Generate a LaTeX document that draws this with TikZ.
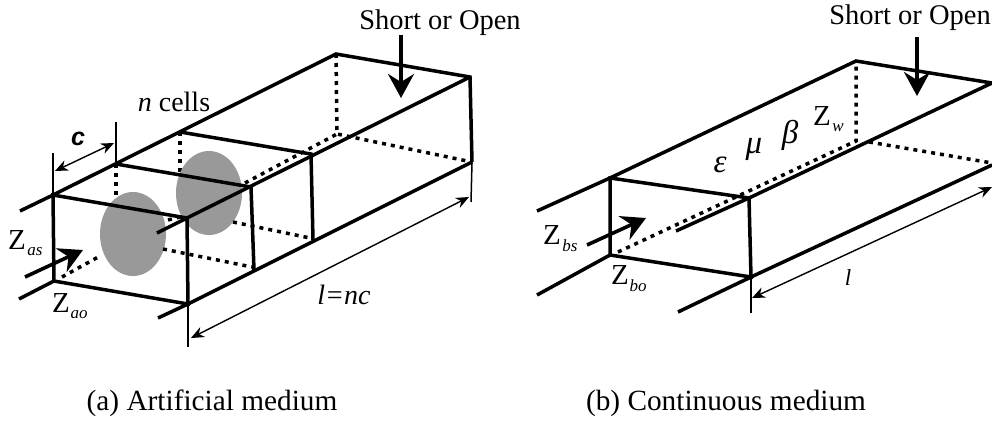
\documentclass[tikz,border=0pt]{standalone}
\usepackage{fontspec}
\setmainfont{Liberation Serif}
\setsansfont{Liberation Sans}
\usetikzlibrary{arrows.meta,shapes.geometric}
\colorlet{cellGray}{black!40}
\tikzset{
  wall/.style={line width=3.5pt},
  hidden/.style={line width=3.5pt, dash pattern=on 4pt off 5pt},
  feed/.style={line width=3.6pt, -{Stealth[length=24pt, width=26pt, inset=8pt]}},
  dimline/.style={line width=1.5pt},
  dimarrow/.style={line width=1.4pt, {Stealth[length=13pt, width=11pt]}-{Stealth[length=13pt, width=11pt]}},
  every node/.style={font=\fontsize{28.5}{32}\selectfont, inner sep=0pt},
  caption/.style={font=\fontsize{29.3}{32}\selectfont},
  subs/.style={font=\fontsize{17}{20}\selectfont\itshape},
  iso/.style={font=\fontsize{28}{32}\selectfont\itshape},
  bigz/.style={font=\fontsize{29}{32}\selectfont},
  greek/.style={font=\fontsize{33}{36}\selectfont\itshape},
}

\begin{document}
\begin{tikzpicture}[x=1pt, y=-1pt]
  \useasboundingbox (0,0) rectangle (992,421);

  % artificial medium
  \coordinate (aTL) at (53,195);
  \coordinate (aBL) at (54,281);
  \coordinate (aTR) at (187,218);
  \coordinate (aBR) at (188,304);
  \coordinate (aBack) at (336,54);
  \coordinate (aEndT) at (470,77);
  \coordinate (aEndB) at (472,162);
  \coordinate (aBackB) at (337,134);

  \draw[hidden] (62,277) -- (100,256);
  \draw[hidden] (116,164) -- (116,195);
  \draw[hidden] (180,132) -- (180,172);
  \draw[hidden] (aBack) -- (aBackB) -- (aEndB);
  \draw[hidden] (245,183) -- (aBackB);
  \draw[hidden] (168,220) -- (184,216);

  \node[ellipse, fill=cellGray, minimum width=66pt, minimum height=84pt] (cellA) at (133,234) {};
  \node[ellipse, fill=cellGray, minimum width=66pt, minimum height=84pt] (cellB) at (209,193) {};

  \draw[hidden] (163,249) -- (252,267);
  \draw[hidden] (233,222) -- (310,238);

  \draw[wall] (20,211) -- (aTL) -- (aBack) -- (aEndT) -- (aEndB);
  \draw[wall] (157,233) -- (aTR) -- (aEndT);
  \draw[wall] (158,318) -- (aBR) -- (aEndB);
  \draw[wall] (aTL) -- (aTR) -- (aBR) -- (aBL) -- cycle;
  \draw[wall] (19,299) -- (aBL);
  \draw[wall] (116,164) -- (251,187) -- (254,270);
  \draw[wall] (180,132) -- (311,154) -- (313,240);

  \draw[dimline] (53,153) -- (aTL);
  \draw[dimline] (116,122) -- (116,164);
  \draw[dimline] (aBR) -- (188,347);
  \draw[dimline] (aEndB) -- (471,202);
  \draw[dimarrow] (55,171) -- (114,143);
  \draw[dimarrow] (191,338) -- (469,197);

  \draw[feed] (25,277) -- (83,250);
  \draw[feed] (401,35) -- (401,98);

  \node (aShort) at (440,23) {Short or Open};
  \node[iso] (aCells) at (174,102) {\textit{n} \textup{cells}};
  \node[font=\fontsize{25}{28}\selectfont\sffamily\bfseries\itshape] (aC) at (78,139) {c};
  \node[iso] (aLen) at (344,295) {l=nc};
  \node[bigz] (aZs) at (17,240) {Z};
  \node[subs] (aZsSub) at (35,252) {as};
  \node[bigz] (aZo) at (61,303) {Z};
  \node[subs] (aZoSub) at (79,315) {ao};
  \node[caption] (aCap) at (212,403) {(a) Artificial medium};

  % continuous medium
  \coordinate (bTL) at (610,178);
  \coordinate (bBL) at (610,255);
  \coordinate (bTR) at (749,198);
  \coordinate (bBR) at (751,277);
  \coordinate (bBack) at (856,61);
  \coordinate (bBackB) at (856,141);
  \coordinate (bEndT) at (992,83);
  \coordinate (bEndM) at (992,165);

  \draw[hidden] (618,252) -- (bBackB) -- (bBack);
  \draw[hidden] (869,142) -- (992,163);

  \draw[wall] (537,211) -- (bTL) -- (bBack) -- (bEndT);
  \draw[wall] (676,231) -- (bTR) -- (bEndT);
  \draw[wall] (678,312) -- (bBR) -- (bEndM);
  \draw[wall] (bTL) -- (bTR) -- (bBR) -- (bBL) -- cycle;
  \draw[wall] (537,295) -- (bBL);

  \draw[dimline] (bBR) -- (751,313);
  \draw[dimarrow] (752,298) -- (992,187);

  \draw[feed] (587,245) -- (646,218);
  \draw[feed] (917,37) -- (917,96);

  \node (bShort) at (910,18) {Short or Open};
  \node[greek] (bEps) at (720,165) {ε};
  \node[greek] (bMu) at (754,149) {μ};
  \node[greek] (bBeta) at (790,135) {β};
  \node[bigz] (bZw) at (822,116) {Z};
  \node[subs] (bZwSub) at (838,128) {w};
  \node[bigz] (bZs) at (552,235) {Z};
  \node[subs] (bZsSub) at (570,246) {bs};
  \node[bigz] (bZo) at (620,275) {Z};
  \node[subs] (bZoSub) at (638,286) {bo};
  \node[iso, font=\fontsize{23}{26}\selectfont\itshape] (bLen) at (848,278) {l};
  \node[caption] (bCap) at (726,403) {(b) Continuous medium};
\end{tikzpicture}
\end{document}
